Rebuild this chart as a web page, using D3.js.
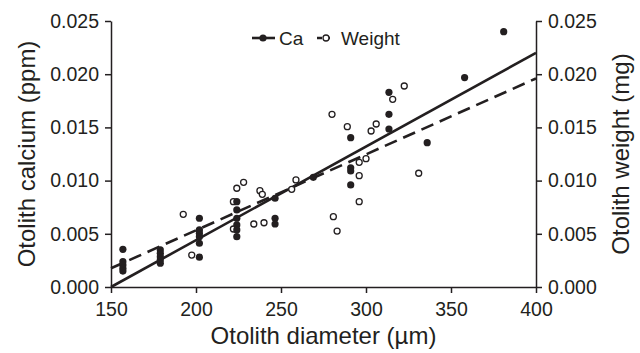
<!DOCTYPE html>
<html><head><meta charset="utf-8">
<script src="https://cdn.jsdelivr.net/npm/d3@7"></script>
<style>body{margin:0;background:#fff}svg{display:block}text{font-family:"Liberation Sans",Arial,sans-serif;fill:#231f20}</style>
</head><body><svg id="c" width="640" height="353"></svg>
<script>
// Ca (filled) points: diameter (µm) and calcium (ppm)
const caDiameter = [157,157,157,157,157, 179,179,179,179,179, 202,202,202,202,202,202, 224,224,224,224,224,224, 246.5,246.5,246.5, 269, 291,291,291,291, 313.5,313.5,313.5, 336, 358, 381];
const caValue    = [0.00354,0.00238,0.00207,0.00176,0.00150, 0.00348,0.00317,0.00285,0.00254,0.00223, 0.00646,0.00536,0.00505,0.00473,0.00411,0.00280, 0.00802,0.00724,0.00646,0.00583,0.00536,0.00473, 0.00834,0.00646,0.00592, 0.01031, 0.01403,0.01121,0.01090,0.00959, 0.01830,0.01623,0.01485, 0.01356, 0.01968, 0.02400];
// Weight (open) points: diameter (µm) and weight (mg)
const wtDiameter = [192.5,197.5,222,222,224,228,237.6,239,234,240,256.3,258.8,280,289,303,306,296,296,296,300,280.8,283,315.7,322.5,331];
const wtValue    = [0.00683,0.00300,0.00802,0.00545,0.00928,0.00984,0.00905,0.00871,0.00592,0.00604,0.00918,0.01006,0.01623,0.01507,0.01466,0.01532,0.01172,0.01046,0.00802,0.01206,0.00661,0.00526,0.01764,0.01889,0.01069];
// Fitted regression lines (endpoints)
const fitX = [150, 400];
const caFit = [0.0000, 0.0220];
const wtFit = [0.00176, 0.0196];
const xTicks = [150,200,250,300,350,400];
const yTicks = [0,0.005,0.010,0.015,0.020,0.025];
const legendLabels = ["Ca","Weight"];

const svg = d3.select("#c");
const L=111,R=536,T=21,B=287;
const x = d3.scaleLinear().domain([150,400]).range([L,R]);
const y = d3.scaleLinear().domain([0,0.025]).range([B,T]);
const fmt = d3.format(".3f");
const ink="#231f20";

function styleAxis(g){
  g.selectAll("path").attr("stroke",ink).attr("stroke-width",1.5);
  g.selectAll("line").attr("stroke",ink).attr("stroke-width",1.5);
  g.selectAll("text").style("font-size","19.5px").style("font-family","'Liberation Sans',Arial,sans-serif").attr("fill",ink);
}
svg.append("g").attr("transform",`translate(0,${B})`)
  .call(d3.axisBottom(x).tickValues(xTicks).tickSize(6).tickSizeOuter(0).tickPadding(9))
  .call(styleAxis);
svg.append("g").attr("transform",`translate(${L},0)`)
  .call(d3.axisLeft(y).tickValues(yTicks).tickFormat(fmt).tickSize(6).tickSizeOuter(0).tickPadding(6))
  .call(styleAxis);
svg.append("g").attr("transform",`translate(${R},0)`)
  .call(d3.axisRight(y).tickValues(yTicks).tickFormat(fmt).tickSize(6).tickSizeOuter(0).tickPadding(6))
  .call(styleAxis);

// titles
svg.append("text").attr("x",(L+R)/2).attr("y",344).attr("text-anchor","middle").style("font-size","24px").text("Otolith diameter (µm)");
svg.append("text").attr("transform",`translate(35,${(T+B)/2}) rotate(-90)`).attr("text-anchor","middle").style("font-size","24px").text("Otolith calcium (ppm)");
svg.append("text").attr("transform",`translate(629,${(T+B)/2}) rotate(-90)`).attr("text-anchor","middle").style("font-size","24px").text("Otolith weight (mg)");

// fit lines
const line = d3.line().x(d=>x(d[0])).y(d=>y(d[1]));
svg.append("path").datum(fitX.map((v,i)=>[v,caFit[i]])).attr("d",line).attr("stroke",ink).attr("stroke-width",2.6).attr("fill","none");
svg.append("path").datum(fitX.map((v,i)=>[v,wtFit[i]])).attr("d",line).attr("stroke",ink).attr("stroke-width",2.6).attr("fill","none").attr("stroke-dasharray","13,7");

// points
svg.append("g").selectAll("circle").data(wtDiameter.map((v,i)=>[v,wtValue[i]])).join("circle")
  .attr("cx",d=>x(d[0])).attr("cy",d=>y(d[1])).attr("r",3).attr("fill","#fff").attr("stroke",ink).attr("stroke-width",1.3);
svg.append("g").selectAll("circle").data(caDiameter.map((v,i)=>[v,caValue[i]])).join("circle")
  .attr("cx",d=>x(d[0])).attr("cy",d=>y(d[1])).attr("r",3.6).attr("fill",ink);

// legend
const lg = svg.append("g");
lg.append("line").attr("x1",252).attr("x2",275).attr("y1",38).attr("y2",38).attr("stroke",ink).attr("stroke-width",2.6);
lg.append("circle").attr("cx",263).attr("cy",38).attr("r",3.6).attr("fill",ink);
lg.append("text").attr("x",279).attr("y",45).style("font-size","19px").text(legendLabels[0]);
lg.append("line").attr("x1",317).attr("x2",333).attr("y1",38).attr("y2",38).attr("stroke",ink).attr("stroke-width",2.6).attr("stroke-dasharray","5,3");
lg.append("circle").attr("cx",326).attr("cy",38).attr("r",3).attr("fill","#fff").attr("stroke",ink).attr("stroke-width",1.3);
lg.append("text").attr("x",341).attr("y",45).style("font-size","19px").text(legendLabels[1]);
</script></body></html>
